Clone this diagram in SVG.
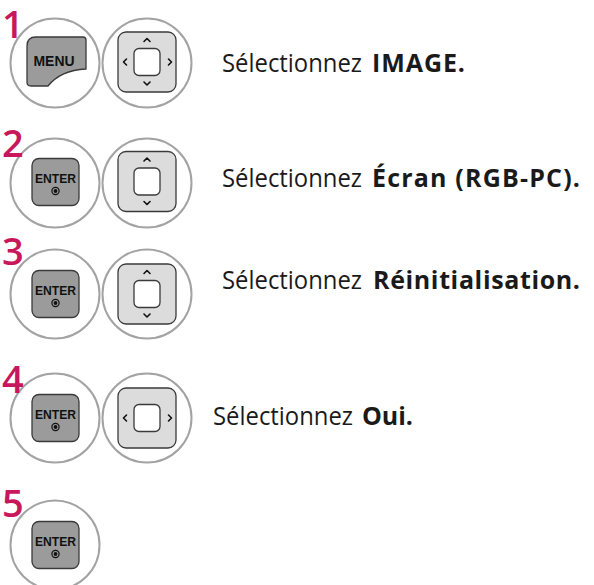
<svg xmlns="http://www.w3.org/2000/svg" xmlns:xlink="http://www.w3.org/1999/xlink" width="594" height="585" viewBox="0 0 594 585">
<style>
.ring{fill:none;stroke:#a3a3a3;stroke-width:2}
.btn{fill:#9b9b9b;stroke:#3a3a3a;stroke-width:1.3}
.pad{fill:#dcdcdc;stroke:#3a3a3a;stroke-width:1.3}
.sq{fill:#fff;stroke:#3a3a3a;stroke-width:1.3}
.chev{fill:none;stroke:#111;stroke-width:1.6;stroke-linecap:round;stroke-linejoin:round}
.key{font-family:"Liberation Sans",Arial,sans-serif;font-weight:bold;fill:#111;text-anchor:middle}
.num{font-family:"Open Sans","Noto Sans",sans-serif;font-weight:600;fill:#c8175a;font-size:38px}
.lbl{font-family:"Open Sans","Noto Sans",sans-serif;font-size:25px;fill:#1a1a1a}
.b{font-weight:bold}
</style>
<defs>
<g id="enter">
<rect class="btn" x="-23.5" y="-23.5" width="47" height="47" rx="7"/>
<text class="key" x="0" y="1" font-size="13" textLength="41" lengthAdjust="spacingAndGlyphs">ENTER</text>
<circle cx="0" cy="9" r="3.6" fill="none" stroke="#111" stroke-width="1.2"/>
<circle cx="0" cy="9" r="1.9" fill="#111"/>
</g>
<g id="pad">
<rect class="pad" x="-29" y="-30" width="58" height="60" rx="8"/>
<rect class="sq" x="-13" y="-13.5" width="26" height="27" rx="5"/>
</g>
<path id="up" class="chev" d="M-3,1.5 L0,-1.5 L3,1.5"/>
<path id="down" class="chev" d="M-3,-1.5 L0,1.5 L3,-1.5"/>
<path id="left" class="chev" d="M1.5,-3 L-1.5,0 L1.5,3"/>
<path id="right" class="chev" d="M-1.5,-3 L1.5,0 L-1.5,3"/>
</defs>

<g id="step1">
<circle class="ring" cx="55" cy="63" r="44.5"/>
<text class="num" x="2" y="38">1</text>
<path class="btn" d="M27,46 Q27,37 36,37 L83,37 Q86,37 86,40 L86,69 C67,70 56,76 48,86 L31,86 Q27,86 27,82 Z"/>
<text class="key" x="54" y="66" font-size="14" textLength="41" lengthAdjust="spacingAndGlyphs">MENU</text>
<circle class="ring" cx="147" cy="63" r="44.5"/>
<use xlink:href="#pad" x="147" y="62"/>
<use xlink:href="#up" x="147" y="40"/>
<use xlink:href="#down" x="147" y="83.5"/>
<use xlink:href="#left" x="125" y="62"/>
<use xlink:href="#right" x="170" y="62"/>
<text class="lbl" y="72"><tspan x="222" textLength="140" lengthAdjust="spacingAndGlyphs">Sélectionnez</tspan><tspan class="b" x="372" textLength="93">IMAGE.</tspan></text>
</g>

<g id="step2">
<circle class="ring" cx="55" cy="183" r="44.5"/>
<text class="num" x="2" y="157">2</text>
<use xlink:href="#enter" x="55.5" y="182"/>
<circle class="ring" cx="147" cy="183" r="44.5"/>
<use xlink:href="#pad" x="147" y="181.5"/>
<use xlink:href="#up" x="147" y="159.5"/>
<use xlink:href="#down" x="147" y="203"/>
<text class="lbl" y="187"><tspan x="222" textLength="140" lengthAdjust="spacingAndGlyphs">Sélectionnez</tspan><tspan class="b" x="372" textLength="208">Écran  (RGB-PC).</tspan></text>
</g>

<g id="step3">
<circle class="ring" cx="55" cy="294" r="44.5"/>
<text class="num" x="2" y="265">3</text>
<use xlink:href="#enter" x="55.5" y="294"/>
<circle class="ring" cx="147" cy="294" r="44.5"/>
<use xlink:href="#pad" x="147" y="294"/>
<use xlink:href="#up" x="147" y="272"/>
<use xlink:href="#down" x="147" y="315.5"/>
<text class="lbl" y="289"><tspan x="222" textLength="140" lengthAdjust="spacingAndGlyphs">Sélectionnez</tspan><tspan class="b" x="373" textLength="207">Réinitialisation.</tspan></text>
</g>

<g id="step4">
<circle class="ring" cx="55" cy="418" r="44.5"/>
<text class="num" x="2" y="393">4</text>
<use xlink:href="#enter" x="55.5" y="418"/>
<circle class="ring" cx="147" cy="418" r="44.5"/>
<use xlink:href="#pad" x="147" y="418"/>
<use xlink:href="#left" x="125" y="418"/>
<use xlink:href="#right" x="170" y="418"/>
<text class="lbl" y="425"><tspan x="213" textLength="140" lengthAdjust="spacingAndGlyphs">Sélectionnez</tspan><tspan class="b" x="362" textLength="51">Oui.</tspan></text>
</g>

<g id="step5">
<circle class="ring" cx="55" cy="545" r="44.5"/>
<text class="num" x="2" y="517">5</text>
<use xlink:href="#enter" x="55.5" y="545"/>
</g>

<g id="connectors"></g>
</svg>
